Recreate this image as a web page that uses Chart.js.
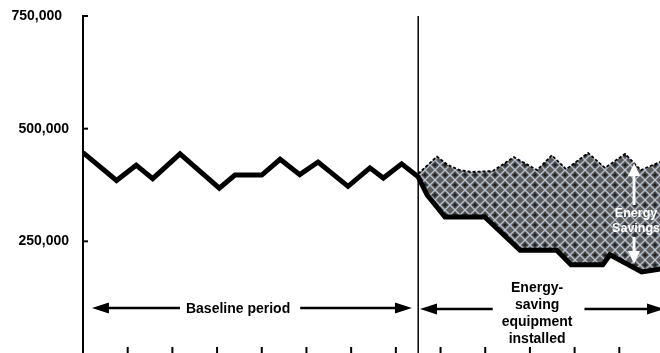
<!DOCTYPE html>
<html>
<head>
  <title>Energy Savings</title>
  <script src="https://cdn.jsdelivr.net/npm/chart.js@4.4.0/dist/chart.umd.min.js"></script>
  <style>
    html, body { margin: 0; padding: 0; background: #fff; overflow: hidden; }
    #wrap { width: 660px; height: 353px; overflow: hidden; }
  </style>
</head>
<body>
  <div id="wrap"><canvas id="chart" width="670" height="369"></canvas></div>
  <script>
    // x is counted in tick intervals from the y axis; equipment goes in at 7.5
    const baselineX = [0, 0.75, 1.19, 1.56, 2.17, 3.05, 3.40, 4.0, 4.41, 4.85, 5.26, 5.93, 6.42, 6.72, 7.13, 7.5];
    const baselineY = [447000, 385000, 419000, 389000, 444000, 368000, 397000, 397000, 432000, 398000, 426000, 372000, 413000, 390500, 422000, 393000];
    const actualX = [7.70, 8.1, 8.99, 9.78, 10.60, 10.92, 11.63, 11.79, 12.5, 13.0];
    const actualY = [352800, 304000, 304000, 230000, 230000, 198000, 198000, 220000, 182000, 190000];
    const adjustedX = [7.5, 7.92, 8.17, 8.43, 8.70, 9.17, 9.40, 9.64, 10.16, 10.49, 10.81, 11.30, 11.68, 12.13, 12.48, 12.91, 13.0];
    const adjustedY = [400000, 438000, 419000, 408000, 404000, 406000, 421000, 437000, 408000, 441000, 410000, 446000, 413000, 444000, 408000, 426000, 430000];
    const yTicks = [0, 250000, 500000, 750000];
    const xTicks = [1, 2, 3, 4, 5, 6, 7, 8, 9, 10, 11, 12, 13];
    const installAt = 7.5;

    const FONT = '"Liberation Sans", Arial, sans-serif';

    function pts(xs, ys) {
      return xs.map((x, i) => ({ x: x, y: ys[i] }));
    }

    // grey cross-hatch used for the savings area
    function makeHatch(ctx) {
      const c = document.createElement('canvas');
      c.width = 10; c.height = 10;
      const g = c.getContext('2d');
      g.fillStyle = '#5e5e5e';
      g.fillRect(0, 0, 10, 10);
      g.strokeStyle = '#b6c2d2';
      g.lineWidth = 1.3;
      g.beginPath();
      g.moveTo(0, 5); g.lineTo(5, 0); g.lineTo(10, 5); g.lineTo(5, 10); g.closePath();
      g.stroke();
      g.fillStyle = '#111';
      g.fillRect(4.5, 2.5, 1, 5);
      g.fillRect(2.5, 4.5, 5, 1);
      return ctx.createPattern(c, 'repeat');
    }

    function hArrow(ctx, from, to, y, head, half, width) {
      const dir = to > from ? 1 : -1;
      ctx.lineWidth = width;
      ctx.beginPath();
      ctx.moveTo(from, y);
      ctx.lineTo(to - dir * head * 0.8, y);
      ctx.stroke();
      ctx.beginPath();
      ctx.moveTo(to, y);
      ctx.lineTo(to - dir * head, y - half);
      ctx.lineTo(to - dir * head, y + half);
      ctx.closePath();
      ctx.fill();
    }

    function vArrow(ctx, x, from, to, head, half, width) {
      const dir = to > from ? 1 : -1;
      ctx.lineWidth = width;
      ctx.beginPath();
      ctx.moveTo(x, from);
      ctx.lineTo(x, to - dir * head * 0.8);
      ctx.stroke();
      ctx.beginPath();
      ctx.moveTo(x, to);
      ctx.lineTo(x - half, to - dir * head);
      ctx.lineTo(x + half, to - dir * head);
      ctx.closePath();
      ctx.fill();
    }

    // tick marks point into the plot on both axes
    const innerTicks = {
      id: 'innerTicks',
      afterDatasetsDraw(chart) {
        const ctx = chart.ctx, a = chart.chartArea;
        const xs = chart.scales.x, ys = chart.scales.y;
        ctx.save();
        ctx.strokeStyle = '#000';
        ctx.lineWidth = 2;
        yTicks.forEach(v => {
          if (v === 0) return;
          const y = ys.getPixelForValue(v);
          ctx.beginPath(); ctx.moveTo(a.left, y); ctx.lineTo(a.left + 5, y); ctx.stroke();
        });
        xTicks.forEach(v => {
          const x = xs.getPixelForValue(v);
          ctx.beginPath(); ctx.moveTo(x, a.bottom); ctx.lineTo(x, a.bottom - 7); ctx.stroke();
        });
        ctx.restore();
      }
    };

    const notes = {
      id: 'notes',
      afterDatasetsDraw(chart) {
        const ctx = chart.ctx;
        const xs = chart.scales.x, ys = chart.scales.y;
        ctx.save();
        ctx.fillStyle = '#000';
        ctx.strokeStyle = '#000';
        ctx.font = 'bold 14px ' + FONT;
        ctx.textAlign = 'center';
        ctx.textBaseline = 'alphabetic';

        // Baseline period
        let ay = ys.getPixelForValue(102000);
        let cx = xs.getPixelForValue(3.47);
        let w = ctx.measureText('Baseline period').width;
        ctx.fillText('Baseline period', cx, ay + 5);
        hArrow(ctx, cx - w / 2 - 6, xs.getPixelForValue(0.2), ay, 17, 5.5, 2.5);
        hArrow(ctx, cx + w / 2 + 10, xs.getPixelForValue(installAt - 0.14), ay, 17, 5.5, 2.5);

        // Energy-saving equipment installed
        const lines = ['Energy-', 'saving', 'equipment', 'installed'];
        cx = xs.getPixelForValue(10.16);
        ay = ys.getPixelForValue(100000);
        w = Math.max(...lines.map(s => ctx.measureText(s).width));
        lines.forEach((s, i) => ctx.fillText(s, cx, ay - 17 + i * 17));
        hArrow(ctx, cx - w / 2 - 9, xs.getPixelForValue(installAt + 0.04), ay, 17, 5.5, 2.5);
        hArrow(ctx, cx + w / 2 + 12, xs.getPixelForValue(13.0), ay, 17, 5.5, 2.5);

        // Energy Savings, white over the hatch
        ctx.fillStyle = '#fff';
        ctx.strokeStyle = '#fff';
        ctx.font = 'bold 12.5px ' + FONT;
        const sx = xs.getPixelForValue(12.33);
        ctx.fillText('Energy', sx + 2, ys.getPixelForValue(303300));
        ctx.fillText('Savings', sx + 2, ys.getPixelForValue(270000));
        vArrow(ctx, sx, ys.getPixelForValue(330600), ys.getPixelForValue(423800), 13, 6, 3);
        vArrow(ctx, sx, ys.getPixelForValue(259600), ys.getPixelForValue(199700), 13, 6, 3);
        ctx.restore();
      }
    };

    const canvas = document.getElementById('chart');
    const hatch = makeHatch(canvas.getContext('2d'));

    new Chart(canvas, {
      type: 'line',
      data: {
        datasets: [
          {
            label: 'Actual',
            data: pts(baselineX.concat(actualX), baselineY.concat(actualY)),
            borderColor: '#000',
            borderWidth: 5,
            borderJoinStyle: 'miter',
            pointRadius: 0,
            fill: false,
            order: 0
          },
          {
            label: 'Adjusted baseline',
            data: pts(adjustedX, adjustedY),
            borderColor: '#000',
            borderWidth: 1.8,
            borderDash: [3, 2],
            backgroundColor: hatch,
            pointRadius: 0,
            fill: 0,
            order: 1
          },
          {
            label: 'Installed',
            data: pts([installAt, installAt], [0, 750000]),
            borderColor: '#000',
            borderWidth: 1.5,
            pointRadius: 0,
            fill: false,
            order: 2
          }
        ]
      },
      options: {
        responsive: false,
        animation: false,
        events: [],
        layout: { padding: { top: 16, right: 6, left: 0, bottom: 0 } },
        plugins: { legend: { display: false }, tooltip: { enabled: false } },
        scales: {
          x: {
            type: 'linear',
            min: 0,
            max: 13,
            ticks: { display: false },
            grid: { drawOnChartArea: false, drawTicks: false },
            border: { display: false },
            afterFit: s => { s.height = 15; }
          },
          y: {
            min: 0,
            max: 750000,
            afterBuildTicks: s => { s.ticks = yTicks.map(v => ({ value: v })); },
            afterFit: s => { s.width = 83; },
            ticks: {
              color: '#000',
              padding: 14,
              // tiny line height keeps the labels from padding the plot area
              font: { family: FONT, size: 14, weight: 'bold', lineHeight: 0.1 },
              callback: v => v === 0 ? '' : v.toLocaleString('en-US') + (v === 750000 ? '\u2002' : '')
            },
            grid: { drawOnChartArea: false, drawTicks: false },
            border: { display: true, color: '#000', width: 2 }
          }
        }
      },
      plugins: [innerTicks, notes]
    });
  </script>
</body>
</html>
